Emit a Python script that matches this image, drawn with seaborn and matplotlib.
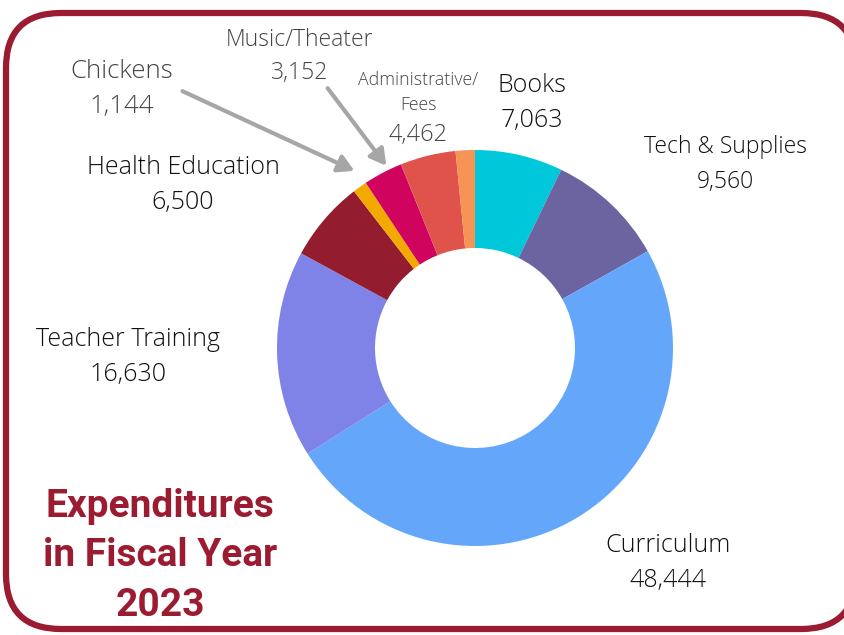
import matplotlib
matplotlib.use("Agg")
import matplotlib.pyplot as plt
import seaborn as sns
from matplotlib.patches import FancyBboxPatch

categories = ["Books", "Tech & Supplies", "Curriculum", "Teacher Training",
              "Health Education", "Chickens", "Music/Theater", "Administrative/Fees", "Other"]
values = [7063, 9560, 48444, 16630, 6500, 1144, 3152, 4462, 1550]
colors = ["#00C8DA", "#6B64A0", "#64A6FA", "#7F82E6", "#931C2F",
          "#F2A900", "#D0035E", "#E0534A", "#F59455"]
value_labels = ["7,063", "9,560", "48,444", "16,630", "6,500", "1,144", "3,152", "4,462"]

sns.set_theme(style="white")
plt.rcParams['font.family'] = ['Open Sans', 'DejaVu Sans']

W, H = 844, 635
fig = plt.figure(figsize=(W / 100, H / 100), dpi=100)
ax = fig.add_axes([0, 0, 1, 1])
ax.set_xlim(0, W)
ax.set_ylim(0, H)
ax.set_aspect("equal")
ax.axis("off")

def Y(y):
    return H - y

# border
border = FancyBboxPatch((6, Y(629)), 850, 629 - 13,
                        boxstyle="round,pad=0,rounding_size=55",
                        linewidth=4.5, edgecolor="#9B1B30", facecolor="white", zorder=0)
ax.add_patch(border)

ax.pie(values, colors=colors, startangle=90, counterclock=False,
       center=(475, Y(348)), radius=198,
       wedgeprops=dict(width=98, linewidth=0), frame=True)
ax.set_xlim(0, W)
ax.set_ylim(0, H)
ax.axis("off")

gray = "#454545"
dark = "#111111"

def lab(x, y, name, val, color=gray, size=18, gap=35):
    ax.text(x, Y(y), name, ha="center", va="center", fontsize=size, color=color,
            fontweight="light")
    ax.text(x, Y(y + gap), val, ha="center", va="center", fontsize=size, color=color,
            fontweight="light")

lab(122, 72, categories[5], value_labels[5], size=18.5)
lab(300, 40, categories[6], value_labels[6], size=16.5, gap=33)
ax.text(418, Y(80), "Administrative/", ha="center", va="center", fontsize=12.8, color=gray,
        fontweight="light")
ax.text(418, Y(105), "Fees", ha="center", va="center", fontsize=12.8, color=gray,
        fontweight="light")
ax.text(418, Y(135), value_labels[7], ha="center", va="center", fontsize=17, color=gray,
        fontweight="light")
lab(532, 86, categories[0], value_labels[0], color=dark)
lab(725, 147, categories[1], value_labels[1], color=dark, size=16.5)
lab(183, 168, categories[4], value_labels[4], color=dark)
lab(128, 339, categories[3], value_labels[3], color=dark)
lab(668, 545, categories[2], value_labels[2], color=dark)

# arrows
arrow_kw = dict(arrowstyle="-|>,head_length=0.8,head_width=0.45", color="#A6A6A6", lw=3)
ax.annotate("", xy=(357, Y(172)), xytext=(180, Y(90)), arrowprops=arrow_kw)
ax.annotate("", xy=(388, Y(168)), xytext=(326, Y(86)), arrowprops=arrow_kw)

# title
ax.text(160, Y(556), "Expenditures\nin Fiscal Year\n2023", ha="center", va="center",
        fontsize=28, fontweight="bold", color="#9B1B30", linespacing=1.42,
        family=["Roboto", "DejaVu Sans"])

fig.savefig("out.png", dpi=100)
